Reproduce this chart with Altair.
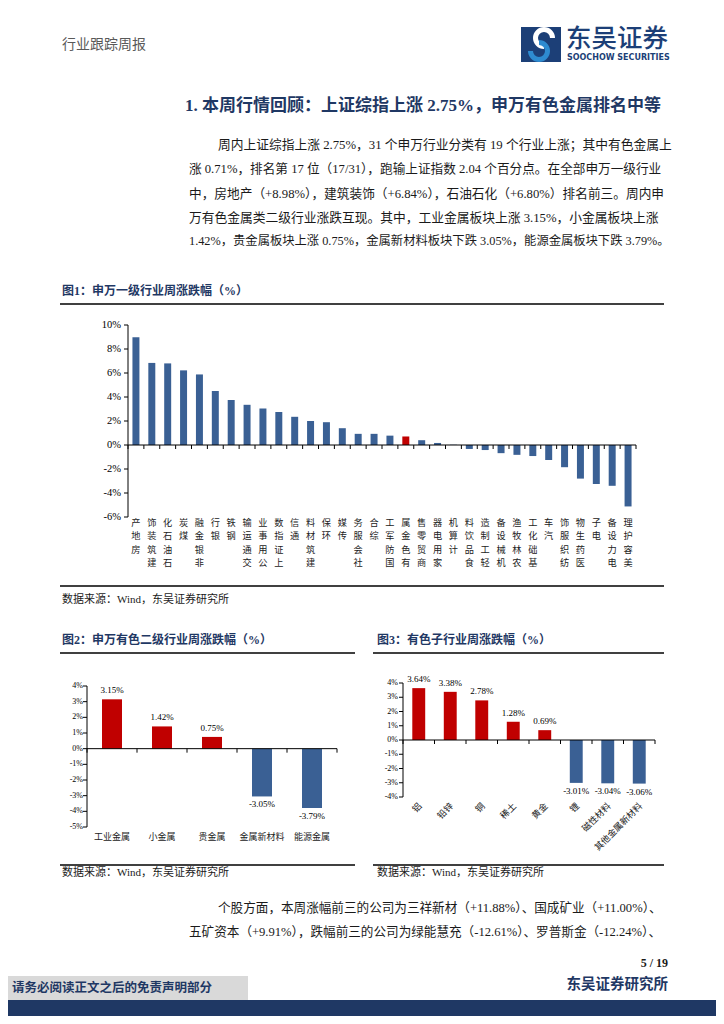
import math
import altair as alt
import pandas as pd

# ---------------- data ----------------
ind_names = ["房地产", "建筑装饰", "石油石化", "煤炭", "非银金融", "银行", "钢铁", "交通运输",
             "公用事业", "上证指数", "通信", "建筑材料", "环保", "传媒", "社会服务", "综合",
             "国防军工", "有色金属", "商贸零售", "家用电器", "计算机", "食品饮料", "轻工制造",
             "机械设备", "农林牧渔", "基础化工", "汽车", "纺织服饰", "医药生物", "电子",
             "电力设备", "美容护理"]
ind_values = [8.98, 6.84, 6.80, 6.22, 5.88, 4.50, 3.75, 3.35, 3.05, 2.75, 2.35, 2.00, 1.90,
              1.40, 0.93, 0.93, 0.78, 0.71, 0.40, 0.17, 0.02, -0.33, -0.42, -0.68, -0.82,
              -0.92, -1.25, -1.85, -2.80, -3.25, -3.40, -5.12]

sub_names = ["工业金属", "小金属", "贵金属", "金属新材料", "能源金属"]
sub_values = [3.15, 1.42, 0.75, -3.05, -3.79]

seg_names = ["铝", "铅锌", "铜", "稀土", "黄金", "锂", "磁性材料", "其他金属新材料"]
seg_values = [3.64, 3.38, 2.78, 1.28, 0.69, -3.01, -3.04, -3.06]

fig1_ticks = [10, 8, 6, 4, 2, 0, -2, -4, -6]
fig2_ticks = [4, 3, 2, 1, 0, -1, -2, -3, -4, -5]
fig3_ticks = [4, 3, 2, 1, 0, -1, -2, -3, -4]

header_left = "行业跟踪周报"
logo_cn = "东吴证券"
logo_en = "SOOCHOW SECURITIES"
section_title = "1.  本周行情回顾：上证综指上涨 2.75%，申万有色金属排名中等"
para1 = [
    "周内上证综指上涨 2.75%，31 个申万行业分类有 19 个行业上涨；其中有色金属上",
    "涨 0.71%，排名第 17 位（17/31），跑输上证指数 2.04 个百分点。在全部申万一级行业",
    "中，房地产（+8.98%），建筑装饰（+6.84%），石油石化（+6.80%）排名前三。周内申",
    "万有色金属类二级行业涨跌互现。其中，工业金属板块上涨 3.15%，小金属板块上涨",
    "1.42%，贵金属板块上涨 0.75%，金属新材料板块下跌 3.05%，能源金属板块下跌 3.79%。",
]
fig1_title = "图1：申万一级行业周涨跌幅（%）"
fig2_title = "图2：申万有色二级行业周涨跌幅（%）"
fig3_title = "图3：有色子行业周涨跌幅（%）"
source_text = "数据来源：Wind，东吴证券研究所"
para2 = [
    "个股方面，本周涨幅前三的公司为三祥新材（+11.88%）、国成矿业（+11.00%）、",
    "五矿资本（+9.91%），跌幅前三的公司为绿能慧充（-12.61%）、罗普斯金（-12.24%）、",
]
page_no = "5 / 19"
footer_right = "东吴证券研究所"
footer_left = "请务必阅读正文之后的免责声明部分"

# ---------------- styles ----------------
NAVY = "#1F3864"
LOGO_NAVY = "#1C3F77"
BLUE = "#3A6094"
RED = "#C00000"
SERIF = "Liberation Serif, Noto Sans CJK SC"
CJK = "Noto Sans CJK SC"
BODY = "#1a1a1a"
ONE = alt.Data(values=[{"k": 0}])

layers = []


def text(s, x, y, size=12, color=BODY, font=SERIF, weight="normal", align="left",
         baseline="middle", **kw):
    return alt.Chart(ONE).mark_text(text=s, fontSize=size, color=color, font=font,
                                    fontWeight=weight, align=align, baseline=baseline,
                                    **kw).encode(x=alt.value(x), y=alt.value(y))


def hrule(x1, x2, y, color="#404040", w=2):
    return alt.Chart(ONE).mark_rule(color=color, strokeWidth=w).encode(
        x=alt.value(x1), x2=alt.value(x2), y=alt.value(y))


def box(x1, x2, y1, y2, color):
    return alt.Chart(ONE).mark_rect(color=color).encode(
        x=alt.value(x1), x2=alt.value(x2), y=alt.value(y1), y2=alt.value(y2))


def figure(names, values, x0, x1, ytop, ybot, dmin, dmax, ticks, pad, tick_lab_x,
           tick_size, color_cond, value_labels, value_size):
    out = []
    n = len(names)
    xs = alt.Scale(domain=names, range=[x0, x1], paddingInner=pad, paddingOuter=pad / 2)
    ys = alt.Scale(domain=[dmin, dmax], range=[ybot, ytop], nice=False)
    zpx = ybot + (0 - dmin) * (ytop - ybot) / (dmax - dmin)
    df = pd.DataFrame({"c": names, "v": values})
    df["lab"] = [f"{v:.2f}%" for v in values]
    out.append(alt.Chart(df).mark_bar().encode(
        x=alt.X("c:N", scale=xs, axis=None, sort=None),
        y=alt.Y("v:Q", scale=ys, axis=None),
        color=color_cond))
    if value_labels:
        out.append(alt.Chart(df).transform_filter("datum.v > 0").mark_text(
            fontSize=value_size, font=SERIF, baseline="bottom", dy=-4, color="#000").encode(
            x=alt.X("c:N", scale=xs, axis=None, sort=None),
            y=alt.Y("v:Q", scale=ys, axis=None), text="lab:N"))
        out.append(alt.Chart(df).transform_filter("datum.v <= 0").mark_text(
            fontSize=value_size, font=SERIF, baseline="top", dy=4, color="#000").encode(
            x=alt.X("c:N", scale=xs, axis=None, sort=None),
            y=alt.Y("v:Q", scale=ys, axis=None), text="lab:N"))
    # y axis
    out.append(alt.Chart(pd.DataFrame({"a": [dmin], "b": [dmax]})).mark_rule(
        color="#000", strokeWidth=1).encode(
        x=alt.value(x0), y=alt.Y("a:Q", scale=ys, axis=None), y2="b:Q"))
    tdf = pd.DataFrame({"t": ticks, "tl": [f"{t}%" for t in ticks]})
    out.append(alt.Chart(tdf).mark_rule(color="#000", strokeWidth=1).encode(
        x=alt.value(x0 - 4), x2=alt.value(x0), y=alt.Y("t:Q", scale=ys, axis=None)))
    out.append(alt.Chart(tdf).mark_text(fontSize=tick_size, font=SERIF, align="right",
                                        baseline="middle", color="#000").encode(
        x=alt.value(tick_lab_x), y=alt.Y("t:Q", scale=ys, axis=None), text="tl:N"))
    # x axis
    out.append(alt.Chart(pd.DataFrame({"z": [0]})).mark_rule(color="#000", strokeWidth=1).encode(
        x=alt.value(x0), x2=alt.value(x1), y=alt.Y("z:Q", scale=ys, axis=None)))
    idx = pd.DataFrame({"i": list(range(n + 1))})
    out.append(alt.Chart(idx).mark_rule(color="#000", strokeWidth=1).encode(
        x=alt.X("i:Q", scale=alt.Scale(domain=[0, n], range=[x0, x1], nice=False, zero=False),
                axis=None),
        y=alt.value(zpx), y2=alt.value(zpx + 4)))
    return out, xs, df


# ---------------- header ----------------
layers.append(text(header_left, 54, 37, size=14, color="#595959", font=CJK))
layers.append(box(513, 553, 19, 54, LOGO_NAVY))
layers.append(alt.Chart(ONE).mark_arc(radius=11, radius2=6, theta=math.pi, theta2=2.5 * math.pi,
                                      color="white").encode(x=alt.value(536), y=alt.value(30)))
layers.append(alt.Chart(ONE).mark_arc(radius=11, radius2=6, theta=0, theta2=1.5 * math.pi,
                                      color="#2E8BD0").encode(x=alt.value(531), y=alt.value(43)))
layers.append(text(logo_cn, 558, 31, size=25.5, color=LOGO_NAVY, font=CJK, weight=500))
layers.append(text(logo_en, 559, 50, size=8, color=LOGO_NAVY, font="DejaVu Sans", weight="bold"))

layers.append(text(section_title, 177, 98, size=17, color=NAVY, weight="bold"))
para_pos = [(210, 137), (181, 161), (181, 186), (181, 210), (181, 233)]
para_size = [12.75, 12.65, 12.7, 12.75, 12.3]
for s, (x, y), fs in zip(para1, para_pos, para_size):
    layers.append(text(s, x, y, size=fs))

# ---------------- figure 1 ----------------
layers.append(text(fig1_title, 54, 283, size=12, color=NAVY, weight="bold"))
layers.append(hrule(52, 656, 296))
f1, xs1, df1 = figure(ind_names, ind_values, 120, 628, 317, 509, -6, 10, fig1_ticks, 0.56,
                      113, 10.5,
                      alt.condition(alt.datum.c == "有色金属", alt.value(RED), alt.value(BLUE)),
                      False, 9)
layers += f1
# vertical category labels: characters stacked, read bottom-to-top, top end at the axis
rows = []
for name in ind_names:
    for k, ch in enumerate(reversed(list(name))):
        rows.append({"c": name, "k": k, "ch": ch})
lab1 = pd.DataFrame(rows)
layers.append(alt.Chart(lab1).mark_text(fontSize=9.2, font=CJK, baseline="middle",
                                        color="#222").encode(
    x=alt.X("c:N", scale=xs1, axis=None, sort=None),
    y=alt.Y("k:Q", scale=alt.Scale(domain=[0, 3], range=[515, 555.2], nice=False, zero=False),
            axis=None),
    text="ch:N"))
layers.append(hrule(52, 656, 578))
layers.append(text(source_text, 54, 592, size=11))

# ---------------- figure 2 ----------------
layers.append(text(fig2_title, 54, 632, size=12, color=NAVY, weight="bold"))
layers.append(hrule(52, 347, 645))
f2, xs2, df2 = figure(sub_names, sub_values, 79, 329, 678, 819, -5, 4, fig2_ticks, 0.6,
                      75, 8,
                      alt.condition(alt.datum.v > 0, alt.value(RED), alt.value(BLUE)),
                      True, 9)
layers += f2
layers.append(alt.Chart(df2).mark_text(fontSize=9, font=CJK, baseline="middle", color="#222").encode(
    x=alt.X("c:N", scale=xs2, axis=None, sort=None), y=alt.value(829), text="c:N"))

# ---------------- figure 3 ----------------
layers.append(text(fig3_title, 369, 632, size=12, color=NAVY, weight="bold"))
layers.append(hrule(365, 656, 645))
f3, xs3, df3 = figure(seg_names, seg_values, 395, 647, 675, 789, -4, 4, fig3_ticks, 0.59,
                      390, 8,
                      alt.condition(alt.datum.v > 0, alt.value(RED), alt.value(BLUE)),
                      True, 9)
layers += f3
layers.append(alt.Chart(df3).mark_text(fontSize=9, font=CJK, angle=315, align="right",
                                       baseline="middle", color="#222", dx=2).encode(
    x=alt.X("c:N", scale=xs3, axis=None, sort=None), y=alt.value(798), text="c:N"))

# ---------------- bottom ----------------
layers.append(hrule(52, 347, 857))
layers.append(hrule(365, 656, 857))
layers.append(text(source_text, 54, 865, size=11))
layers.append(text(source_text, 369, 865, size=11))
layers.append(text(para2[0], 210, 900, size=12.6))
layers.append(text(para2[1], 181, 924, size=12.6))
layers.append(text(page_no, 660, 955, size=12, weight="bold", align="right"))
layers.append(text(footer_right, 660, 977, size=14.5, color=NAVY, font=CJK, weight="bold",
                   align="right"))
layers.append(box(0, 240, 968, 992, "#D9D9D9"))
layers.append(box(0, 708, 992, 1008, NAVY))
layers.append(text(footer_left, 4, 980, size=12.5, color=NAVY, font=CJK, weight="bold"))

chart = alt.layer(*layers).resolve_scale(x="independent", y="independent",
                                         color="independent").properties(
    width=708, height=1008, padding=0, autosize="none"
).configure_view(stroke=None)

chart.save("out.html", embed_options={"renderer": "svg", "actions": False})
